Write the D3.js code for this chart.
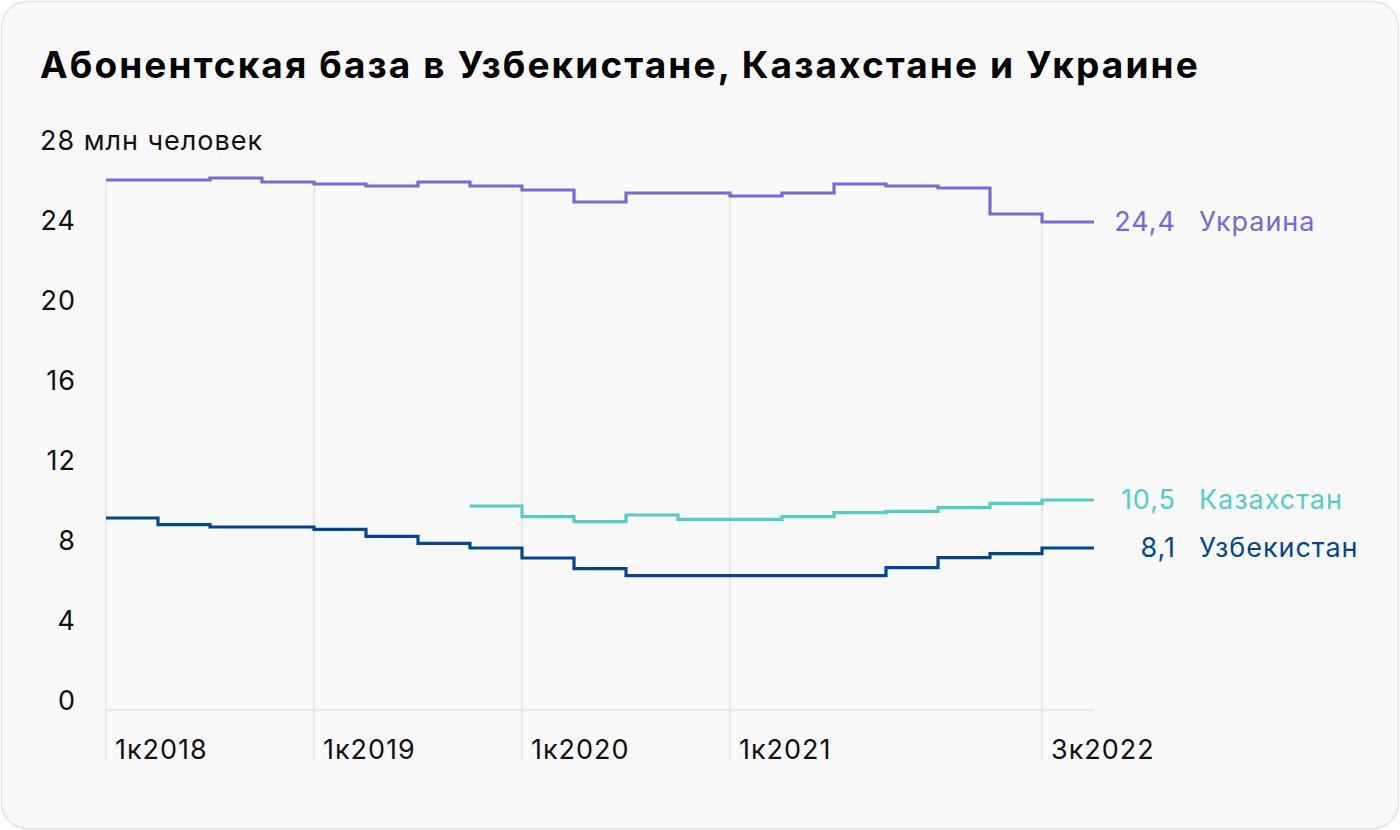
<!DOCTYPE html>
<html><head><meta charset="utf-8">
<script src="https://cdn.jsdelivr.net/npm/d3@7"></script>
<style>
html,body{margin:0;padding:0;background:#fff;}
svg{display:block;font-family:Inter,Roboto,"Noto Sans",sans-serif;}
</style></head>
<body><svg id="chart" width="1400" height="830"></svg>
<script>
const title = "Абонентская база в Узбекистане, Казахстане и Украине";
const unitLabel = "млн человек";
const quarters = ["1к2018","2к2018","3к2018","4к2018","1к2019","2к2019","3к2019","4к2019",
  "1к2020","2к2020","3к2020","4к2020","1к2021","2к2021","3к2021","4к2021","1к2022","2к2022","3к2022"];
const tickQuarters = ["1к2018","1к2019","1к2020","1к2021","3к2022"];
const yTicks = [0,4,8,12,16,20,24,28];
const seriesNames = ["Украина","Казахстан","Узбекистан"];
const seriesColors = ["#7a67e2","#50cfc6","#02459a"];
const ukraine = [26.5,26.5,26.6,26.4,26.3,26.2,26.4,26.2,26.0,25.4,25.85,25.85,25.7,25.85,26.3,26.2,26.1,24.8,24.4];
const kazakhstan = [null,null,null,null,null,null,null,10.2,9.67,9.42,9.75,9.53,9.53,9.67,9.87,9.93,10.12,10.33,10.5];
const uzbekistan = [9.6,9.27,9.15,9.15,9.03,8.68,8.33,8.1,7.6,7.07,6.72,6.72,6.72,6.72,6.72,7.12,7.62,7.82,8.1];
const endLabels = ["24,4","10,5","8,1"];

const svg = d3.select("#chart");
svg.append("rect").attr("x",1.5).attr("y",1.5).attr("width",1397).attr("height",827)
  .attr("rx",26).attr("fill","#f9f9f9").attr("stroke","#e4e4e4").attr("stroke-width",1.5);

function fit(sel, target) {
  const n = sel.text().length;
  const w = sel.node().getComputedTextLength();
  sel.attr("letter-spacing", ((target - w) / n).toFixed(2));
  return sel;
}

const t = svg.append("text").attr("x",40).attr("y",78).attr("font-size",37).attr("font-weight",700)
  .attr("fill","#000").text(title);
fit(t, 1160);

const x = d3.scaleLinear().domain([0, quarters.length]).range([106, 1094]);
const y = d3.scaleLinear().domain([0, 28]).range([710, 150]);

const FS = 27;
const probe = svg.append("text").attr("font-size",FS).text("28 " + unitLabel);
const ls = ((223 - probe.node().getComputedTextLength()) / 14).toFixed(2);
probe.remove();

tickQuarters.forEach(q => {
  const i = quarters.indexOf(q);
  svg.append("line").attr("x1",x(i)).attr("x2",x(i))
    .attr("y1",y(ukraine[i])).attr("y2",760)
    .attr("stroke","#e2e2e2").attr("stroke-width",1.5);
  svg.append("text").attr("x",x(i)+9).attr("y",759).attr("font-size",FS).attr("letter-spacing",ls)
    .attr("fill","#111").text(q);
});
svg.append("line").attr("x1",x(0)).attr("x2",x(quarters.length)).attr("y1",y(0)).attr("y2",y(0))
  .attr("stroke","#e2e2e2").attr("stroke-width",1.5);

yTicks.forEach(v => {
  if (v === 28) {
    svg.append("text").attr("x",40).attr("y",y(v)).attr("font-size",FS).attr("letter-spacing",ls)
      .attr("fill","#111").text(v + " " + unitLabel);
  } else {
    svg.append("text").attr("x",75).attr("y",y(v)).attr("text-anchor","end").attr("font-size",FS)
      .attr("letter-spacing",ls).attr("dx",ls).attr("fill","#111").text(v);
  }
});

const all = [ukraine, kazakhstan, uzbekistan];
const line = d3.line().defined(d => d.v != null).x(d => x(d.i)).y(d => y(d.v)).curve(d3.curveStepAfter);
all.forEach((s, k) => {
  const pts = s.map((v,i)=>({i, v}));
  pts.push({i: s.length, v: s[s.length-1]});
  svg.append("path").attr("d", line(pts)).attr("fill","none")
    .attr("stroke", seriesColors[k]).attr("stroke-width",3.2);
  const last = s[s.length-1];
  svg.append("text").attr("x",1175).attr("y",y(last)+9).attr("text-anchor","end")
    .attr("font-size",FS).attr("letter-spacing",ls).attr("dx",ls).attr("fill",seriesColors[k]).text(endLabels[k]);
  svg.append("text").attr("x",1199).attr("y",y(last)+9).attr("letter-spacing",ls)
    .attr("font-size",FS).attr("fill",seriesColors[k]).text(seriesNames[k]);
});
</script></body></html>
